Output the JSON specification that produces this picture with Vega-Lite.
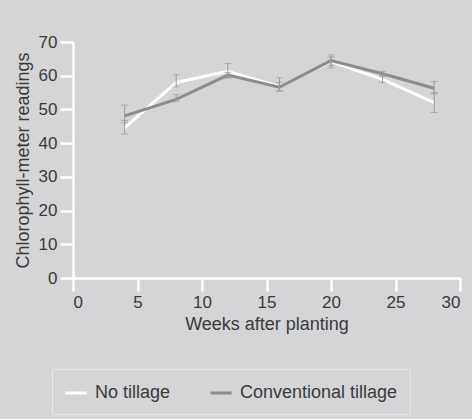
{
  "$schema": "https://vega.github.io/schema/vega-lite/v6.json",
  "autosize": "none",
  "width": 387,
  "height": 236,
  "padding": {"left": 73, "top": 42, "right": 12, "bottom": 141},
  "background": "#d4d5d7",
  "config": {
    "font": "Liberation Sans",
    "view": {"stroke": null},
    "axis": {
      "grid": false,
      "domainColor": "#ffffff",
      "domainWidth": 2.5,
      "tickColor": "#ffffff",
      "tickWidth": 2.5,
      "tickSize": 13,
      "labelFontSize": 17,
      "labelColor": "#3a3a3a",
      "titleFontSize": 18,
      "titleFontWeight": "normal",
      "titleColor": "#3a3a3a"
    }
  },
  "data": {
    "values": [
      {"week": 4, "treatment": "No tillage", "value": 44.5, "lo": 42.7, "hi": 46.7},
      {"week": 8, "treatment": "No tillage", "value": 58.0, "lo": 56.7, "hi": 60.3},
      {"week": 12, "treatment": "No tillage", "value": 61.3, "lo": 59.3, "hi": 63.6},
      {"week": 16, "treatment": "No tillage", "value": 56.8, "lo": 55.6, "hi": 58.0},
      {"week": 20, "treatment": "No tillage", "value": 64.2, "lo": 62.3, "hi": 65.6},
      {"week": 24, "treatment": "No tillage", "value": 58.9, "lo": 58.0, "hi": 60.0},
      {"week": 28, "treatment": "No tillage", "value": 52.0, "lo": 49.1, "hi": 55.0},
      {"week": 4, "treatment": "Conventional tillage", "value": 48.1, "lo": 46.0, "hi": 51.3},
      {"week": 8, "treatment": "Conventional tillage", "value": 53.0, "lo": 52.4, "hi": 54.4},
      {"week": 12, "treatment": "Conventional tillage", "value": 60.2, "lo": 59.4, "hi": 61.0},
      {"week": 16, "treatment": "Conventional tillage", "value": 56.6, "lo": 55.4, "hi": 59.4},
      {"week": 20, "treatment": "Conventional tillage", "value": 64.5, "lo": 63.0, "hi": 66.2},
      {"week": 24, "treatment": "Conventional tillage", "value": 60.6, "lo": 59.8, "hi": 61.3},
      {"week": 28, "treatment": "Conventional tillage", "value": 56.3, "lo": 54.6, "hi": 58.3}
    ]
  },
  "layer": [
    {
      "mark": {"type": "line", "strokeWidth": 3},
      "encoding": {
        "x": {
          "field": "week",
          "type": "quantitative",
          "scale": {"domain": [0, 30], "nice": false},
          "axis": {"values": [0, 5, 10, 15, 20, 25, 30], "labelPadding": 3, "titlePadding": 5, "title": "Weeks after planting"}
        },
        "y": {
          "field": "value",
          "type": "quantitative",
          "scale": {"domain": [0, 70], "nice": false},
          "axis": {"values": [0, 10, 20, 30, 40, 50, 60, 70], "labelPadding": 3, "titlePadding": 6, "title": "Chlorophyll-meter readings"}
        },
        "color": {
          "field": "treatment",
          "type": "nominal",
          "scale": {"domain": ["No tillage", "Conventional tillage"], "range": ["#ffffff", "#8c8c8c"]},
          "legend": {
            "title": null,
            "orient": "none",
            "legendX": -21,
            "legendY": 327,
            "direction": "horizontal",
            "symbolType": "stroke",
            "symbolSize": 441,
            "symbolStrokeWidth": 3,
            "labelFontSize": 18,
            "labelColor": "#3a3a3a",
            "labelOffset": 7,
            "columnPadding": 33,
            "padding": 12,
            "strokeColor": "#e6e7e9",
            "fillColor": "#d4d5d7"
          }
        }
      }
    },
    {
      "mark": {"type": "errorbar", "color": "#9a9a9a", "thickness": 1, "ticks": {"size": 7, "color": "#9a9a9a"}},
      "encoding": {
        "x": {
          "field": "week",
          "type": "quantitative",
          "axis": {"values": [0, 5, 10, 15, 20, 25, 30], "labelPadding": 3, "titlePadding": 5, "title": "Weeks after planting"}
        },
        "y": {
          "field": "lo",
          "type": "quantitative",
          "axis": {"values": [0, 10, 20, 30, 40, 50, 60, 70], "labelPadding": 3, "titlePadding": 6, "title": "Chlorophyll-meter readings"}
        },
        "y2": {"field": "hi"}
      }
    }
  ]
}
